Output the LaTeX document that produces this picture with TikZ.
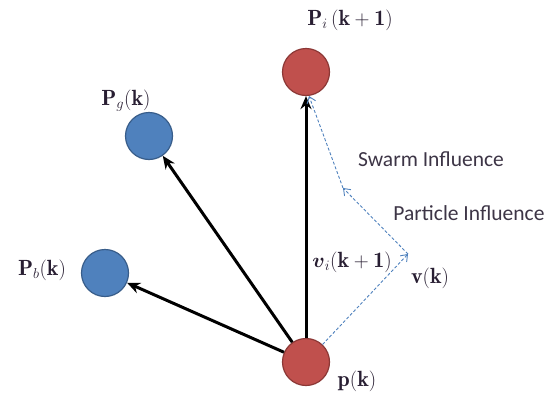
\documentclass[tikz,border=0pt]{standalone}
\usepackage{fontspec}
\usepackage{amsmath}
\newfontfamily\calib{Carlito}
\usetikzlibrary{arrows.meta}
\definecolor{redfill}{RGB}{192,80,77}
\definecolor{redline}{RGB}{140,56,54}
\definecolor{bluefill}{RGB}{79,129,189}
\definecolor{blueline}{RGB}{56,93,138}
\definecolor{dashblue}{RGB}{79,129,189}
\definecolor{txt}{RGB}{40,30,50}
\tikzset{
  redball/.style={circle, fill=redfill, draw=redline, line width=1.2pt, minimum size=47pt, inner sep=0pt},
  blueball/.style={circle, fill=bluefill, draw=blueline, line width=1.2pt, minimum size=47pt, inner sep=0pt},
  blackarrow/.style={line width=3pt, -{Stealth[length=13pt,width=11pt]}},
  dasharrow/.style={dashblue, dash pattern=on 3pt off 2pt, line width=0.9pt, -{Straight Barb[length=6pt,width=9pt]}},
  mlabel/.style={font=\fontsize{22}{26}\selectfont, text=txt, inner sep=0pt},
  tlabel/.style={font=\calib\fontsize{21.5}{25}\selectfont, text=txt!90, inner sep=0pt}
}
\begin{document}
\begin{tikzpicture}[x=1pt,y=-1pt]
\useasboundingbox (0,0) rectangle (552,394);
\node[redball] (p) at (306,362) {};
\node[redball] (pi) at (306,72) {};
\node[blueball] (pg) at (149,136) {};
\node[blueball] (pb) at (105,273) {};
\coordinate (v) at (408,254);
\coordinate (m) at (343,188);
\coordinate (t) at (309,96);

\draw[blackarrow] (p) -- (pi);
\draw[blackarrow] (p) -- (pg);
\draw[blackarrow] (p) -- (pb);

\draw[dasharrow] (p) -- (v);
\draw[dasharrow] (v) -- (m);
\draw[dasharrow] (m) -- (t);

\node[mlabel] (lpi) at (350,20) {$\mathbf{P}_{i}\,(\mathbf{k}+\mathbf{1})$};
\node[mlabel] (lpg) at (126,101) {$\mathbf{P}_{g}(\mathbf{k})$};
\node[mlabel] (lpb) at (42,270) {$\mathbf{P}_{b}(\mathbf{k})$};
\node[mlabel] (lvi) at (352,262) {$\boldsymbol{v}_{i}(\mathbf{k}+\mathbf{1})$};
\node[mlabel] (lv) at (430,278) {$\mathbf{v}(\mathbf{k})$};
\node[mlabel] (lp) at (357,381) {$\mathbf{p}(\mathbf{k})$};
\node[tlabel] (ls) at (431,159) {Swarm Influence};
\node[tlabel] (lpart) at (469,213) {Particle Influence};
\end{tikzpicture}
\end{document}
